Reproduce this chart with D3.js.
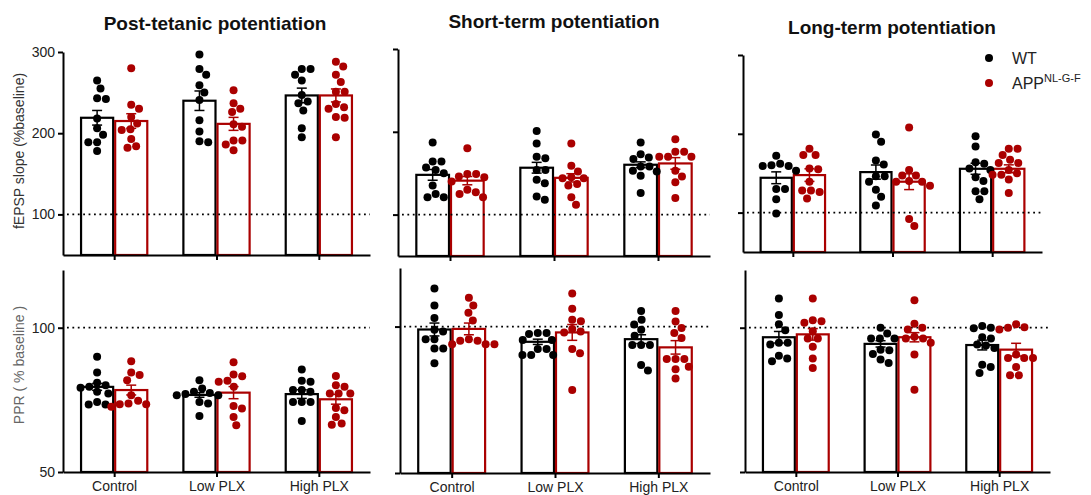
<!DOCTYPE html>
<html>
<head>
<meta charset="utf-8">
<script src="https://cdn.jsdelivr.net/npm/d3@7"></script>
<style>
  body { margin: 0; background: #fff; }
  svg { font-family: "Liberation Sans", Arial, sans-serif; }
</style>
</head>
<body>
<svg id="chart" width="1091" height="495"></svg>
<script>
const groups = ["Control", "Low PLX", "High PLX"];
const genotypes = ["WT", "APP"];

// fEPSP slope, post-tetanic potentiation
const ptpWT = [[265,255,242,243,218,206,198,189,189,178], [297,279,272,259,250,241,216,202,189,190], [279,279,272,265,247,239,237,228,206,195]];
const ptpAPP = [[280,235,230,220,212,205,204,193,184,182], [253,237,230,226,211,208,191,191,186,179], [288,282,272,263,251,251,236,232,230,220,219,195]];
const ptpMean = [[219,215], [240,211.5], [246.5,246.5]];
const ptpSem = [[9,9], [12,8], [9,8]];

// short-term potentiation
const stpWT = [[187,164,164,157,154,150,135,125,121,121], [201,186,170,168,154,154,142,138,122,118], [187,173,169,167,158,158,153,152,147,126]];
const stpAPP = [[180,149,149,146,145,140,130,127,125,121], [186,159,152,145,144,144,137,135,121,112], [191,176,176,170,170,170,153,146,139,120]];
const stpMean = [[148,141], [156.6,144.4], [160.2,161.8]];
const stpSem = [[6.5,5], [6.5,5], [3.5,7]];

// long-term potentiation
const ltpWT = [[172,162,160,159,159,153,130,130,117,99], [199,190,166,161,146,146,139,129,120,109], [197,184,164,162,156,154,145,140,127,127,117]];
const ltpAPP = [[181,173,173,156,155,139,128,128,126,118], [208,154,147,147,140,139,139,134,92,83], [181,181,173,167,163,163,154,150,148,148,142,125]];
const ltpMean = [[144.2,147.6], [151.4,139.2], [155.6,155.6]];
const ltpSem = [[7.5,8], [9,10], [7,5]];

// paired-pulse ratio
const ppr1WT = [[89.9,84.5,80.9,80.1,79.5,79.2,77.8,77.2,74.3,73.4,73.4], [81.8,78.9,77.8,77.4,77,76.6,76.6,74.3,73.7,69.4], [85.5,81.6,81.3,78.4,78.4,77.8,74.3,74.3,74.3,67.7]];
const ppr1APP = [[88.4,84.5,83.6,81.8,76.6,74.7,73.7,73.5,73.5,72.6], [88,83.8,83.2,81.6,81.3,79.5,72.9,72,69.1,66.2], [83.3,80.1,79.5,77.2,77.2,77.2,72.2,71.4,69.1,66.8,66.4]];
const ppr1Mean = [[79.5,78.4], [76.7,77.5], [77,75.2]];
const ppr1Sem = [[1.2,1.7], [0.8,2.1], [1.5,1.7]];

const ppr2WT = [[113,107.2,102.9,98.9,98.3,95.7,95.7,92.5,92.5,87.5], [97.8,97.8,97.5,95.4,95.4,92.3,92.3,90.3,90.3,90.3], [105.3,102.3,100.7,98.9,96.9,93.7,93.7,93.7,86.9,85]];
const ppr2APP = [[109.8,107.2,104.7,102.1,95.7,95.2,95.2,94,94,94], [111.3,106.1,102.3,101.8,99.2,98.3,98,92.3,90.9,78.3], [105.3,101.7,99.5,97.8,96.1,88.9,88.9,88.9,86.3,85.4,82.3]];
const ppr2Mean = [[99,99.2], [94.8,98], [95.7,92.9]];
const ppr2Sem = [[2.2,2], [0.9,2.7], [1.5,2.3]];

const ppr3WT = [[110.1,104.4,101.2,99.1,94.8,94.8,94.2,90.3,89.3,88.4], [100,98,96.3,96.3,96.3,92.4,92.2,90.9,89,87.8], [100.6,100,99.8,96.7,96.3,94.2,93.8,93,87.2,86.4,84.3]];
const ppr3APP = [[110.1,102.6,102.2,101.7,98.8,96.3,96.3,93.4,89.3,86], [109.5,101.4,100,99.4,96.9,96.3,96.3,94.8,90.7,78.5], [101.2,100.2,100,99.4,90.7,89.5,89.5,89.5,86.4,83.5,83.5]];
const ppr3Mean = [[96.7,97.7], [94.4,96.7], [94,92.4]];
const ppr3Sem = [[2,2], [1.1,1.6], [1.7,2.2]];

const topTicks = [100, 200, 300];
const bottomTicks = [50, 100];

const red = "#aa0000";
const colors = { WT: "#000", APP: red };

const panels = [
    { title: "Post-tetanic potentiation", tx: 215, ty: 30, wt: ptpWT, app: ptpAPP, mean: ptpMean, sem: ptpSem, xr: [63, 370], yr: [255, 52], dom: [50, 300], ticks: topTicks, tickLabels: true, catLabels: false },
    { title: "Short-term potentiation", tx: 554, ty: 28, wt: stpWT, app: stpAPP, mean: stpMean, sem: stpSem, xr: [398, 710], yr: [256, 49], dom: [50, 300], ticks: topTicks, tickLabels: false, catLabels: false },
    { title: "Long-term potentiation", tx: 892, ty: 34, wt: ltpWT, app: ltpAPP, mean: ltpMean, sem: ltpSem, xr: [743, 1042], yr: [252, 55], dom: [50, 300], ticks: topTicks, tickLabels: false, catLabels: false },
    { wt: ppr1WT, app: ppr1APP, mean: ppr1Mean, sem: ppr1Sem, xr: [63, 370], yr: [472, 270], dom: [50, 120], ticks: bottomTicks, tickLabels: true, catLabels: true },
    { wt: ppr2WT, app: ppr2APP, mean: ppr2Mean, sem: ppr2Sem, xr: [400, 710], yr: [473, 268], dom: [50, 120], ticks: bottomTicks, tickLabels: false, catLabels: true },
    { wt: ppr3WT, app: ppr3APP, mean: ppr3Mean, sem: ppr3Sem, xr: [745, 1050], yr: [472, 270], dom: [50, 120], ticks: bottomTicks, tickLabels: false, catLabels: true }
];

const svg = d3.select("#chart");
const dotR = 4;

// simple beeswarm: smallest horizontal offset that does not overlap placed dots
function swarm(ys, dist) {
    const placed = [];
    const out = new Array(ys.length);
    const idx = d3.range(ys.length).sort((a, b) => ys[a] - ys[b]);
    idx.forEach(i => {
        const y = ys[i];
        let cands = [0];
        placed.forEach(p => {
            const dy = y - p.y;
            if (Math.abs(dy) < dist) {
                const dx = Math.sqrt(dist * dist - dy * dy);
                cands.push(p.x + dx, p.x - dx);
            }
        });
        cands.sort((a, b) => Math.abs(a) - Math.abs(b));
        const x = cands.find(c => placed.every(p => (c - p.x) ** 2 + (y - p.y) ** 2 >= dist * dist - 0.01));
        placed.push({ x: x, y: y });
        out[i] = x;
    });
    return out;
}

panels.forEach(p => {
    const g = svg.append("g");
    const x = d3.scalePoint().domain(groups).range(p.xr).padding(0.5);
    const step = x.step();
    const sub = d3.scaleBand().domain(genotypes).range([-step / 3, step / 3]);
    const y = d3.scaleLinear().domain(p.dom).range(p.yr);
    const base = y(p.dom[0]);

    // bars
    groups.forEach((grp, gi) => {
        genotypes.forEach((gt, ti) => {
            const m = p.mean[gi][ti];
            g.append("rect")
                .attr("x", x(grp) + sub(gt) + 1)
                .attr("y", y(m))
                .attr("width", sub.bandwidth() - 2)
                .attr("height", base - y(m))
                .attr("fill", "#fff")
                .attr("stroke", colors[gt])
                .attr("stroke-width", 2.2);
        });
    });

    // baseline reference at 100 %
    g.append("line")
        .attr("x1", p.xr[0] + 4).attr("x2", p.xr[1])
        .attr("y1", y(100)).attr("y2", y(100))
        .attr("stroke", "#000")
        .attr("stroke-width", 1.8)
        .attr("stroke-dasharray", "1.8,3.6");

    // individual slices
    groups.forEach((grp, gi) => {
        genotypes.forEach((gt, ti) => {
            const vals = (gt === "WT" ? p.wt : p.app)[gi];
            const ys = vals.map(v => y(v));
            const xs = swarm(ys, 2 * dotR + 0.8);
            const cx = x(grp) + sub(gt) + sub.bandwidth() / 2;
            g.selectAll(null)
                .data(vals)
                .enter()
                .append("circle")
                .attr("cx", (d, i) => cx + xs[i])
                .attr("cy", d => y(d))
                .attr("r", dotR)
                .attr("fill", colors[gt]);
        });
    });

    // error bars (mean ± SEM)
    groups.forEach((grp, gi) => {
        genotypes.forEach((gt, ti) => {
            const m = p.mean[gi][ti], s = p.sem[gi][ti];
            const cx = x(grp) + sub(gt) + sub.bandwidth() / 2;
            const eg = g.append("g").attr("stroke", colors[gt]).attr("stroke-width", 1.5);
            eg.append("line").attr("x1", cx).attr("x2", cx).attr("y1", y(m + s)).attr("y2", y(m - s));
            eg.append("line").attr("x1", cx - 5).attr("x2", cx + 5).attr("y1", y(m + s)).attr("y2", y(m + s));
            eg.append("line").attr("x1", cx - 5).attr("x2", cx + 5).attr("y1", y(m - s)).attr("y2", y(m - s));
        });
    });

    // axes
    const yAxis = d3.axisLeft(y).tickValues(p.ticks).tickSize(5).tickSizeOuter(0).tickPadding(3);
    if (!p.tickLabels) yAxis.tickFormat("");
    const ya = g.append("g").attr("transform", `translate(${p.xr[0]},0)`).call(yAxis);

    const xAxis = d3.axisBottom(x).tickSize(5).tickSizeOuter(0).tickPadding(4);
    if (!p.catLabels) xAxis.tickFormat("");
    const xa = g.append("g").attr("transform", `translate(0,${base})`).call(xAxis);

    [ya, xa].forEach(a => {
        a.select(".domain").attr("stroke-width", 2);
        a.selectAll(".tick line").attr("stroke-width", 2);
        a.selectAll(".tick text").attr("font-size", 14).attr("fill", "#222");
    });

    if (p.title) {
        svg.append("text")
            .attr("x", p.tx).attr("y", p.ty)
            .attr("text-anchor", "middle")
            .attr("font-size", 19)
            .attr("font-weight", "bold")
            .attr("fill", "#111")
            .text(p.title);
    }
});

// y axis titles
svg.append("text")
    .attr("transform", "translate(24,151) rotate(-90)")
    .attr("text-anchor", "middle")
    .attr("font-size", 14)
    .attr("fill", "#333")
    .text("fEPSP slope (%baseline)");

svg.append("text")
    .attr("transform", "translate(24,365) rotate(-90)")
    .attr("text-anchor", "middle")
    .attr("font-size", 14)
    .attr("fill", "#666")
    .text("PPR ( % baseline )");

// legend
const legend = svg.append("g");
legend.append("circle").attr("cx", 989).attr("cy", 58).attr("r", 4).attr("fill", "#000");
legend.append("text").attr("x", 1012).attr("y", 64).attr("font-size", 16).attr("fill", "#222").text("WT");
legend.append("circle").attr("cx", 989).attr("cy", 83).attr("r", 4).attr("fill", red);
const appLabel = legend.append("text").attr("x", 1012).attr("y", 89).attr("font-size", 16).attr("fill", "#222");
appLabel.append("tspan").text("APP");
appLabel.append("tspan").attr("font-size", 11).attr("dy", -7).text("NL-G-F");
</script>
</body>
</html>
